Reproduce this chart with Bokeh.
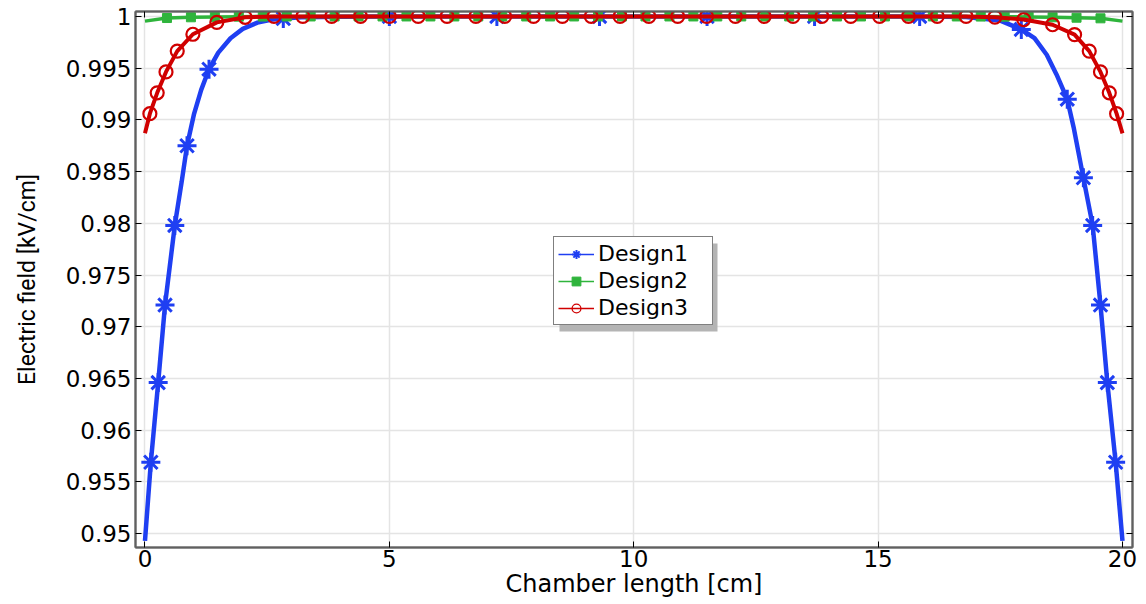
import math
from bokeh.plotting import figure
from bokeh.models import (ColumnDataSource, Range1d, LinearAxis, FixedTicker,
                          Legend, LegendItem, CustomJSTickFormatter, BoxAnnotation)
from bokeh.embed import file_html
from bokeh.resources import INLINE

# ---------------- data ----------------
x_ticks = [0, 5, 10, 15, 20]
y_ticks = [0.95, 0.955, 0.96, 0.965, 0.97, 0.975, 0.98, 0.985, 0.99, 0.995, 1.0]
y_tick_labels = ["0.95", "0.955", "0.96", "0.965", "0.97", "0.975", "0.98", "0.985", "0.99", "0.995", "1"]

# Design1 (blue) curve
d1_x = [0.0, 0.12, 0.27, 0.41, 0.61, 0.75, 0.86, 1.0, 1.15, 1.31, 1.5, 1.75, 2.0, 2.3, 2.6, 2.83,
        3.2, 4.0, 5.0, 7.2, 9.3, 11.5, 13.7, 15.85, 16.8, 17.5, 17.93, 18.2, 18.45, 18.65, 18.87,
        19.0, 19.2, 19.39, 19.55, 19.69, 19.86, 20.0]
d1_y = [0.9493, 0.9569, 0.9646, 0.9721, 0.9798, 0.9840, 0.9875, 0.9905, 0.9929, 0.9949, 0.9965,
        0.9979, 0.9988, 0.9994, 0.9997, 0.9998, 0.99992, 0.99998, 1.0, 1.0, 1.0, 1.0, 1.0, 1.0,
        0.99995, 0.9996, 0.99875, 0.9979, 0.9963, 0.9944, 0.9920, 0.9893, 0.9844, 0.9798,
        0.9721, 0.9646, 0.9569, 0.9493]
d1_mx = [0.12, 0.27, 0.41, 0.61, 0.86, 1.31, 2.83, 5.0, 7.2, 9.3, 11.5, 13.7, 15.85, 17.93,
         18.87, 19.2, 19.39, 19.55, 19.69, 19.86]
d1_my = [0.9569, 0.9646, 0.9721, 0.9798, 0.9875, 0.9949, 0.9998, 1.0, 1.0, 1.0, 1.0, 1.0, 1.0,
         0.99875, 0.9920, 0.9844, 0.9798, 0.9721, 0.9646, 0.9569]

# Design2 (green) curve
d2_x = [0.0, 0.45, 0.94, 1.43, 1.92, 2.41, 2.9, 3.39, 3.88, 4.37, 4.86, 5.35, 5.84, 6.33, 6.82,
        7.31, 7.8, 8.29, 8.78, 9.27, 9.76, 10.24, 10.73, 11.22, 11.71, 12.2, 12.69, 13.18, 13.67,
        14.16, 14.65, 15.14, 15.63, 16.12, 16.61, 17.1, 17.59, 18.08, 18.57, 19.06, 19.55, 20.0]
d2_y = [0.99955, 0.99985, 0.99992, 0.99996, 0.99998, 0.99999, 1.0, 1.0, 1.0, 1.0, 1.0, 1.0, 1.0,
        1.0, 1.0, 1.0, 1.0, 1.0, 1.0, 1.0, 1.0, 1.0, 1.0, 1.0, 1.0, 1.0, 1.0, 1.0, 1.0, 1.0, 1.0,
        1.0, 1.0, 1.0, 1.0, 0.99999, 0.99998, 0.99996, 0.99992, 0.99988, 0.99982, 0.99955]
d2_mx = d2_x[1:-1]
d2_my = d2_y[1:-1]

# Design3 (red) curve
d3_x = [0.0, 0.1, 0.25, 0.43, 0.66, 0.98, 1.47, 2.05, 2.64, 3.23, 3.82, 4.41, 5.0, 5.59, 6.18,
        6.77, 7.36, 7.95, 8.54, 9.13, 9.72, 10.31, 10.9, 11.49, 12.08, 12.67, 13.26, 13.85,
        14.44, 15.03, 15.62, 16.21, 16.8, 17.39, 17.98, 18.57, 19.02, 19.32, 19.55, 19.73,
        19.88, 20.0]
d3_y = [0.9887, 0.9906, 0.99262, 0.99464, 0.99665, 0.99828, 0.99943, 0.99992, 1.0, 1.0, 1.0,
        1.0, 1.0, 1.0, 1.0, 1.0, 1.0, 1.0, 1.0, 1.0, 1.0, 1.0, 1.0, 1.0, 1.0, 1.0, 1.0, 1.0,
        1.0, 1.0, 1.0, 1.0, 1.0, 0.99993, 0.9997, 0.9992, 0.99825, 0.99665, 0.99464, 0.99262,
        0.9906, 0.9887]
d3_mx = d3_x[1:-1]
d3_my = d3_y[1:-1]

series_labels = ["Design1", "Design2", "Design3"]

# ---------------- style ----------------
BLUE = "#1f3ff2"
GREEN = "#2fb43c"
RED = "#d00000"
FONT = "DejaVu Sans"

p = figure(width=1140, height=600, output_backend="svg", toolbar_location=None,
           x_range=Range1d(-0.194, 20.205), y_range=Range1d(0.94866, 1.00048),
           min_border_left=135, min_border_right=8, min_border_top=11, min_border_bottom=48)

p.outline_line_color = "#808080"
p.outline_line_width = 2
p.background_fill_color = "white"
p.border_fill_color = "white"

for ax in (p.xaxis[0], p.yaxis[0]):
    ax.major_tick_in = 6
    ax.major_tick_out = 0
    ax.minor_tick_in = 0
    ax.minor_tick_out = 0
    ax.axis_line_color = "#606060"
    ax.axis_line_width = 2
    ax.major_tick_line_color = "black"
    ax.major_label_text_font = FONT
    ax.major_label_text_font_size = "23px"
    ax.major_label_text_color = "black"

p.xaxis[0].ticker = FixedTicker(ticks=x_ticks)
p.yaxis[0].ticker = FixedTicker(ticks=y_ticks)
p.yaxis[0].major_label_overrides = {t: l for t, l in zip(y_ticks, y_tick_labels)}
p.xaxis[0].major_label_standoff = 2
p.yaxis[0].major_label_standoff = 4

p.xaxis[0].axis_label = "Chamber length [cm]"
p.xaxis[0].axis_label_text_font = FONT
p.xaxis[0].axis_label_text_font_style = "normal"
p.xaxis[0].axis_label_text_font_size = "24px"
p.xaxis[0].axis_label_text_color = "black"
p.xaxis[0].axis_label_standoff = 0

p.yaxis[0].axis_label = "Electric field [kV/cm]"
p.yaxis[0].axis_label_text_font = "Roboto"
p.yaxis[0].axis_label_text_font_style = "normal"
p.yaxis[0].axis_label_text_font_size = "23px"
p.yaxis[0].axis_label_text_color = "black"
p.yaxis[0].axis_label_standoff = 22

blank = CustomJSTickFormatter(code="return ''")
top_ax = LinearAxis(ticker=FixedTicker(ticks=x_ticks), formatter=blank,
                    major_tick_in=6, major_tick_out=0, minor_tick_in=0, minor_tick_out=0,
                    axis_line_color="#606060", axis_line_width=2, major_label_standoff=0)
right_ax = LinearAxis(ticker=FixedTicker(ticks=y_ticks), formatter=blank,
                      major_tick_in=6, major_tick_out=0, minor_tick_in=0, minor_tick_out=0,
                      axis_line_color="#606060", axis_line_width=2, major_label_standoff=0)
p.add_layout(top_ax, "above")
p.add_layout(right_ax, "right")

p.xgrid.ticker = FixedTicker(ticks=x_ticks)
p.ygrid.ticker = FixedTicker(ticks=y_ticks)
p.xgrid.grid_line_color = "#e4e4e4"
p.ygrid.grid_line_color = "#e4e4e4"
p.xgrid.grid_line_width = 1.5
p.ygrid.grid_line_width = 1.5

# curves
p.line(d1_x, d1_y, line_color=BLUE, line_width=4.5)
p.scatter(d1_mx, d1_my, marker="asterisk", angle=math.pi / 2, size=19,
          line_color=BLUE, line_width=3)
p.line(d2_x, d2_y, line_color=GREEN, line_width=3.5)
p.scatter(d2_mx, d2_my, marker="square", size=9, fill_color=GREEN, line_color=GREEN)
p.line(d3_x, d3_y, line_color=RED, line_width=4)
p.scatter(d3_mx, d3_my, marker="circle", size=13, fill_color=None,
          line_color=RED, line_width=2.2)

# legend-only renderers (thin lines, small markers); NaN data draws nothing on the plot
def nan_src():
    return ColumnDataSource(dict(x=[float("nan")], y=[float("nan")]))

l1 = p.line(x="x", y="y", source=nan_src(), line_color=BLUE, line_width=1.3)
s1 = p.scatter(x="x", y="y", source=nan_src(), marker="asterisk",
               angle=math.pi / 2, size=8, line_color=BLUE, line_width=2)
l2 = p.line(x="x", y="y", source=nan_src(), line_color=GREEN, line_width=1.3)
s2 = p.scatter(x="x", y="y", source=nan_src(), marker="square", size=5,
               fill_color=GREEN, line_color=GREEN)
l3 = p.line(x="x", y="y", source=nan_src(), line_color=RED, line_width=1.3)
s3 = p.scatter(x="x", y="y", source=nan_src(), marker="circle", size=6,
               fill_color=None, line_color=RED, line_width=1.3)

# legend shadow (screen units, relative to the frame's bottom-left)
shadow = BoxAnnotation(left=424, right=582, bottom=216, top=304,
                       left_units="screen", right_units="screen",
                       bottom_units="screen", top_units="screen",
                       fill_color="#b4b4b4", fill_alpha=1, line_color=None)
p.add_layout(shadow)

legend = Legend(items=[LegendItem(label=series_labels[0], renderers=[l1, s1]),
                       LegendItem(label=series_labels[1], renderers=[l2, s2]),
                       LegendItem(label=series_labels[2], renderers=[l3, s3])],
                location=(418, 222), orientation="vertical",
                label_text_font=FONT, label_text_font_size="22px",
                label_text_color="black", label_standoff=4, label_height=22,
                label_width=110, glyph_width=36, glyph_height=22, spacing=2, padding=4,
                margin=0, border_line_color="black", border_line_width=1.5,
                background_fill_color="white", background_fill_alpha=1)
p.add_layout(legend, "center")

open("out.html", "w").write(file_html(p, INLINE))
